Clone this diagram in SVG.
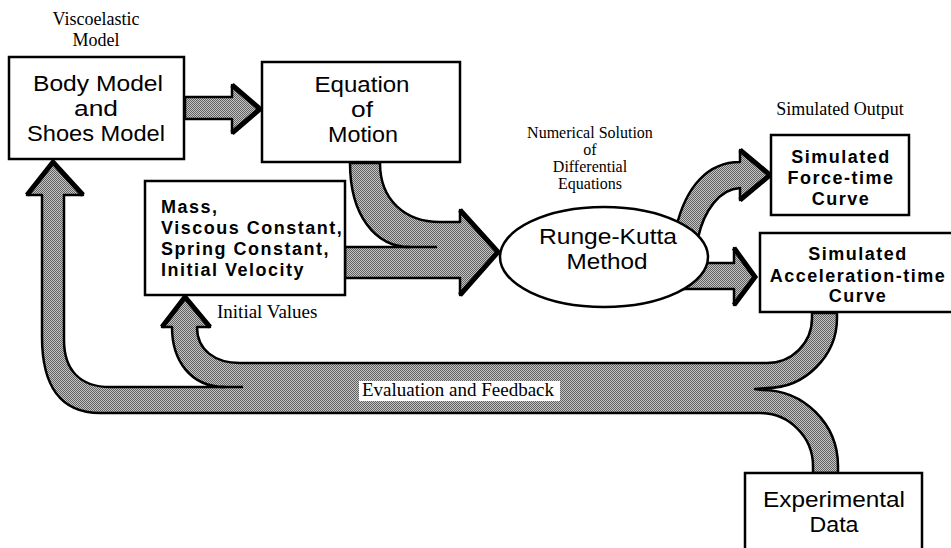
<svg xmlns="http://www.w3.org/2000/svg" width="951" height="548" viewBox="0 0 951 548">
<defs>
<pattern id="dots" patternUnits="userSpaceOnUse" width="2" height="2">
<rect width="2" height="2" fill="#c4c4c4"/>
<rect x="0" y="0" width="1" height="1" fill="#626262"/>
<rect x="1" y="1" width="1" height="1" fill="#626262"/>
</pattern>
<style>
.band{fill:url(#dots);stroke:#000;stroke-width:2.5;stroke-linejoin:round}
.head{fill:none;stroke:#000;stroke-width:5;stroke-linejoin:miter;stroke-miterlimit:10}
.line{fill:none;stroke:#000;stroke-width:2.5}
.box{fill:#fff;stroke:#000;stroke-width:2.5}
.big{font-family:"Liberation Sans",Arial,sans-serif;font-size:22px;fill:#000;text-anchor:middle}
.bold{font-family:"Liberation Sans",Arial,sans-serif;font-size:18px;font-weight:bold;fill:#000;letter-spacing:1.5px}
.mid{text-anchor:middle}
.serif{font-family:"Liberation Serif","Times New Roman",serif;fill:#000}
</style>
</defs>
<rect width="951" height="548" fill="#fff"/>

<g id="connectors">
<!-- Body -> Equation -->
<path class="band" d="M185,97 H232 V85 L260,109 L232,133 V119 H185 Z"/>
<polyline class="head" points="232,85 260,109 232,133"/>
<!-- Equation + Mass -> Runge-Kutta -->
<path class="band" d="M380,163 C380,200 405,222 440,222 H460 V210 L498,252 L460,295 V278 H345 V247 H410 C375,247 350,215 350,163 Z"/>
<line class="line" x1="405" y1="247" x2="437" y2="247"/>
<polyline class="head" points="460,210 498,252 460,295"/>
<!-- Runge-Kutta -> Force-time -->
<path class="band" d="M676,228 C686,186 708,162 740,162 V150 L770,175 L740,200 V188 C720,189 704,210 698,238 Z"/>
<polyline class="head" points="740,150 770,175 740,200"/>
<!-- Runge-Kutta -> Acceleration-time -->
<path class="band" d="M680,263 H734 V248 L755,277 L734,305 V289 H680 Z"/>
<polyline class="head" points="734,248 755,277 734,305"/>
<!-- Evaluation and feedback loop -->
<path class="band" d="M812,313 V318 C812,343 792,363 767,363 H240 C215,363 197,350 197,327 H210 L185,297 L162,327 H172 C172,360 190,387 225,387 H110 C80,387 64,370 64,340 V195 H83 L53,162 L27,195 H42 V337 C42,385 60,413 100,413 H760 C789,413 813,437 813,466 V473 H838 V466 C838,424 804,390 762,390 L755,389 L767,388 C805,388 837,356 837,318 V313 Z"/>
<line class="line" x1="220" y1="387" x2="243" y2="387"/>
<polyline class="head" points="27,195 53,162 83,195"/>
<polyline class="head" points="162,327 185,297 210,327"/>
<rect x="359" y="381" width="201" height="20" fill="#fff"/>
<text class="serif" x="362" y="396" font-size="19" textLength="192">Evaluation and Feedback</text>
</g>

<g id="body-model">
<rect class="box" x="9" y="57" width="175" height="102"/>
<text class="big" x="98" y="91" textLength="130" lengthAdjust="spacingAndGlyphs">Body Model</text>
<text class="big" x="96" y="116" textLength="44" lengthAdjust="spacingAndGlyphs">and</text>
<text class="big" x="96" y="141" textLength="138" lengthAdjust="spacingAndGlyphs">Shoes Model</text>
</g>

<g id="equation-of-motion">
<rect class="box" x="262" y="62" width="198" height="100"/>
<text class="big" x="362" y="92" textLength="95" lengthAdjust="spacingAndGlyphs">Equation</text>
<text class="big" x="362" y="117" textLength="22" lengthAdjust="spacingAndGlyphs">of</text>
<text class="big" x="363" y="142" textLength="70" lengthAdjust="spacingAndGlyphs">Motion</text>
</g>

<g id="initial-parameters">
<rect class="box" x="145" y="181" width="200" height="114"/>
<text class="bold"><tspan x="161" y="213">Mass,</tspan><tspan x="161" y="234">Viscous Constant,</tspan><tspan x="161" y="255">Spring Constant,</tspan><tspan x="161" y="276">Initial Velocity</tspan></text>
</g>

<g id="runge-kutta">
<ellipse class="box" cx="604" cy="257" rx="104" ry="50"/>
<text class="big" x="608" y="244" textLength="138" lengthAdjust="spacingAndGlyphs">Runge-Kutta</text>
<text class="big" x="607" y="269" textLength="81" lengthAdjust="spacingAndGlyphs">Method</text>
</g>

<g id="force-time">
<rect class="box" x="771" y="135" width="138" height="80"/>
<text class="bold mid"><tspan x="841" y="163">Simulated</tspan><tspan x="841" y="184">Force-time</tspan><tspan x="841" y="205">Curve</tspan></text>
</g>

<g id="acceleration-time">
<rect class="box" x="760" y="233" width="196" height="79"/>
<text class="bold mid"><tspan x="858" y="260">Simulated</tspan><tspan x="858" y="282">Acceleration-time</tspan><tspan x="858" y="302">Curve</tspan></text>
</g>

<g id="experimental-data">
<rect class="box" x="745" y="473" width="177" height="80"/>
<text class="big" x="834" y="507" textLength="142" lengthAdjust="spacingAndGlyphs">Experimental</text>
<text class="big" x="834" y="532" textLength="49" lengthAdjust="spacingAndGlyphs">Data</text>
</g>

<g id="labels">
<text class="serif mid" font-size="18"><tspan x="96" y="25">Viscoelastic</tspan><tspan x="96" y="46">Model</tspan></text>
<text class="serif mid" font-size="16"><tspan x="590" y="138">Numerical Solution</tspan><tspan x="590" y="155">of</tspan><tspan x="590" y="172">Differential</tspan><tspan x="590" y="189">Equations</tspan></text>
<text class="serif mid" x="840" y="115" font-size="18">Simulated Output</text>
<text class="serif" x="217" y="318" font-size="19">Initial Values</text>
</g>
</svg>
